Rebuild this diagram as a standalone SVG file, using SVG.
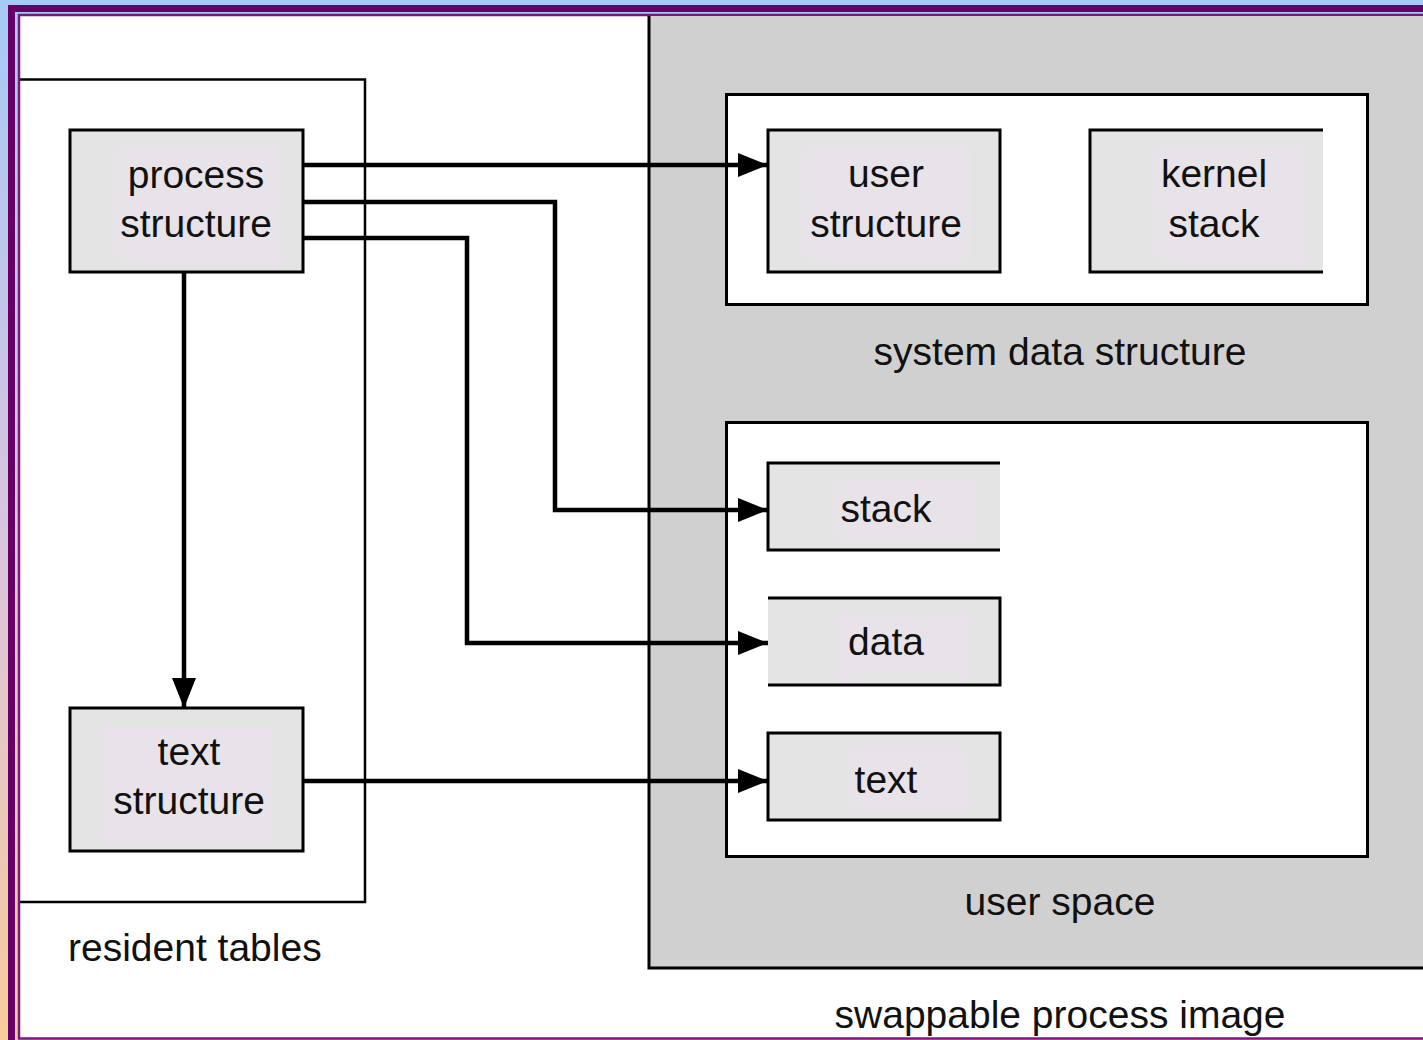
<svg xmlns="http://www.w3.org/2000/svg" width="1423" height="1040" viewBox="0 0 1423 1040">
<defs>
<linearGradient id="bg" x1="0" y1="0" x2="0" y2="1">
<stop offset="0" stop-color="#a6caf4"/>
<stop offset="0.5" stop-color="#d8c4e0"/>
<stop offset="1" stop-color="#f9cc9c"/>
</linearGradient>
<marker id="ah" markerUnits="userSpaceOnUse" markerWidth="30" markerHeight="24" refX="30" refY="12" orient="auto">
<path d="M0,0 L30,12 L0,24 Z" fill="#000"/>
</marker>
<style>
.lbl{font-family:"Liberation Sans",Arial,sans-serif;font-size:39px;fill:#111;text-anchor:middle}
.node{fill:#e4e4e4}
.tbg{fill:#e8e3e8}
.edge{stroke:#000;stroke-width:3;fill:none}
.conn{stroke:#000;stroke-width:4.5;fill:none;marker-end:url(#ah)}
.box{fill:#fff;stroke:#000;stroke-width:3}
</style>
</defs>
<rect x="0" y="0" width="1423" height="1040" fill="url(#bg)"/>
<rect x="11.5" y="8.5" width="1500" height="1100" fill="none" stroke="#660066" stroke-width="7"/>
<rect x="19" y="15" width="1500" height="1023.5" fill="#fff" stroke="#7a1a7a" stroke-width="2.5"/>

<g id="swappable">
<rect x="648" y="16" width="780" height="952" fill="#d0d0d0"/>
<path d="M649,16 V968 H1423" fill="none" stroke="#000" stroke-width="3"/>
<text class="lbl" x="1060" y="1028">swappable process image</text>
</g>

<g id="resident-tables">
<path d="M20,79.5 H365 V902 H20" fill="none" stroke="#000" stroke-width="2.5"/>
<text class="lbl" x="68" y="961" style="text-anchor:start">resident tables</text>
</g>

<g id="system-data-structure">
<rect class="box" x="726.5" y="94.5" width="641" height="210"/>
<text class="lbl" x="1060" y="365">system data structure</text>
</g>

<g id="user-space">
<rect class="box" x="726.5" y="422.5" width="641" height="434"/>
<text class="lbl" x="1060" y="915">user space</text>
</g>

<g id="process-structure">
<rect class="node" x="70" y="130" width="233" height="142"/>
<rect class="tbg" x="113" y="146" width="167" height="116"/>
<rect class="edge" x="70" y="130" width="233" height="142"/>
<text class="lbl" x="196" y="188">process</text>
<text class="lbl" x="196" y="237">structure</text>
</g>

<g id="text-structure">
<rect class="node" x="70" y="708" width="233" height="143"/>
<rect class="tbg" x="106" y="726" width="168" height="116"/>
<rect class="edge" x="70" y="708" width="233" height="143"/>
<text class="lbl" x="189" y="765">text</text>
<text class="lbl" x="189" y="814">structure</text>
</g>

<g id="user-structure">
<rect class="node" x="768" y="130" width="232" height="142"/>
<rect class="tbg" x="802" y="146" width="170" height="116"/>
<rect class="edge" x="768" y="130" width="232" height="142"/>
<text class="lbl" x="886" y="187">user</text>
<text class="lbl" x="886" y="237">structure</text>
</g>

<g id="kernel-stack">
<rect class="node" x="1090" y="130" width="233" height="142"/>
<rect class="tbg" x="1154" y="146" width="152" height="116"/>
<path class="edge" d="M1323,130 H1090 V272 H1323"/>
<text class="lbl" x="1214" y="187">kernel</text>
<text class="lbl" x="1214" y="237">stack</text>
</g>

<g id="stack">
<rect class="node" x="768" y="463" width="232" height="87"/>
<rect class="tbg" x="834" y="479" width="144" height="64"/>
<path class="edge" d="M1000,463 H768 V550 H1000"/>
<text class="lbl" x="886" y="522">stack</text>
</g>

<g id="data">
<rect class="node" x="768" y="598" width="232" height="87"/>
<rect class="tbg" x="841" y="615" width="126" height="64"/>
<path class="edge" d="M768,598 H1000 V685 H768"/>
<text class="lbl" x="886" y="655">data</text>
</g>

<g id="text">
<rect class="node" x="768" y="733" width="232" height="87"/>
<rect class="tbg" x="849" y="749" width="117" height="64"/>
<rect class="edge" x="768" y="733" width="232" height="87"/>
<text class="lbl" x="886" y="793">text</text>
</g>

<g id="connectors">
<path class="conn" d="M303,165 H768"/>
<path class="conn" d="M303,202 H555 V510 H768"/>
<path class="conn" d="M303,238 H467 V643 H768"/>
<path class="conn" d="M184,272 V708"/>
<path class="conn" d="M303,781 H768"/>
</g>
</svg>
